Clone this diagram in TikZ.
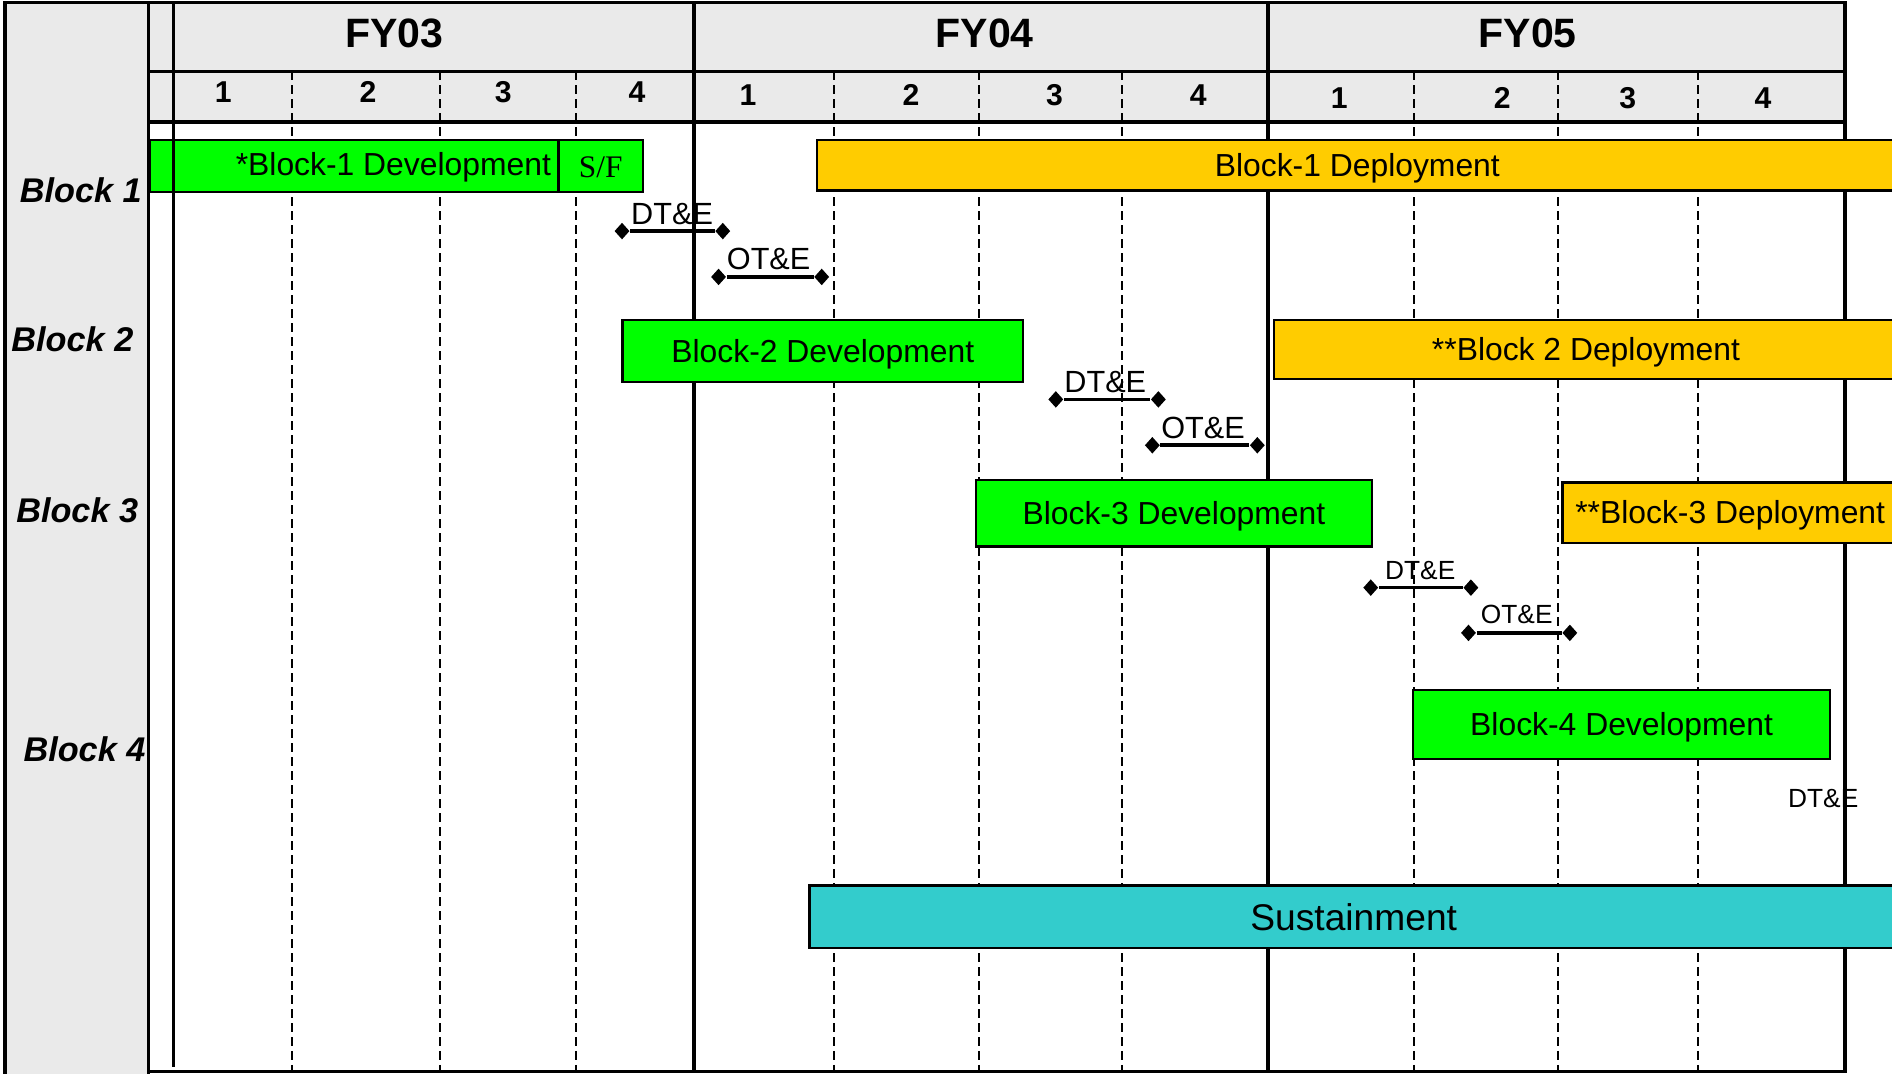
\documentclass[tikz,border=0pt]{standalone}
\usepackage{fontspec}
\setmainfont{Liberation Sans}
\newfontfamily\serifF{Liberation Serif}
\usetikzlibrary{shapes.geometric}
\definecolor{bargreen}{HTML}{00FF00}
\definecolor{baryellow}{HTML}{FFCC00}
\definecolor{barcyan}{HTML}{33CCCC}
\definecolor{hdrgray}{HTML}{EAEAEA}
\begin{document}
\begin{tikzpicture}[x=0.5pt,y=-0.5pt,
  frameline/.style={line width=1.4pt},
  qline/.style={dash pattern=on 3.6pt off 2.2pt, line width=0.8pt},
  bar/.style={draw=black, line width=0.9pt, inner sep=0pt, anchor=north west},
  bartxt/.style={font=\fontsize{13.2}{16}\selectfont, text height=10pt, text depth=0.8pt},
  tlabel/.style={font=\fontsize{12.7}{15}\selectfont, inner sep=0pt, anchor=base},
  slabel/.style={font=\fontsize{10.9}{13}\selectfont, inner sep=0pt, anchor=base},
  dmd/.style={diamond, fill=black, inner sep=0pt, minimum width=6.3pt, minimum height=7pt},
  testline/.style={line width=1.5pt},
  fy/.style={font=\bfseries\fontsize{17}{20}\selectfont, inner sep=0pt},
  qnum/.style={font=\bfseries\fontsize{12.5}{15}\selectfont, inner sep=0pt},
  blk/.style={font=\bfseries\itshape\fontsize{14.2}{17}\selectfont, inner sep=0pt},
]
\clip (0,0) rectangle (1568,890);
\fill[white] (0,0) rectangle (1568,890);
\fill[hdrgray] (4,2) rectangle (123,890);
\fill[hdrgray] (123,2) rectangle (1529,101);

% quarter dashed lines
\foreach \x in {242,365,477,691,811,930,1172,1291,1407}
  \draw[qline] (\x,59) -- (\x,888);

% frame
\draw[frameline] (4,890) -- (4,2) -- (1529,2) -- (1529,888) -- (123,888);
\draw[frameline] (123,2) -- (123,890);
\draw[frameline] (123,59) -- (1529,59);
\draw[frameline] (123,101) -- (1529,101);
\draw[frameline] (575,2) -- (575,888);
\draw[frameline] (1051,2) -- (1051,888);

% header text
\node[fy] (fy03) at (327,28) {FY03};
\node[fy] (fy04) at (816,28) {FY04};
\node[fy] (fy05) at (1266,28) {FY05};
\node[qnum] (q31) at (185,76) {1};
\node[qnum] (q32) at (305,76) {2};
\node[qnum] (q33) at (417,76) {3};
\node[qnum] (q34) at (528,76) {4};
\node[qnum] (q41) at (620,79) {1};
\node[qnum] (q42) at (755,79) {2};
\node[qnum] (q43) at (874,79) {3};
\node[qnum] (q44) at (993,79) {4};
\node[qnum] (q51) at (1110,81) {1};
\node[qnum] (q52) at (1245,81) {2};
\node[qnum] (q53) at (1349,81) {3};
\node[qnum] (q54) at (1461,81) {4};

% block labels
\node[blk] (blk1) at (67,158) {Block 1};
\node[blk] (blk2) at (60,281) {Block 2};
\node[blk] (blk3) at (64,423) {Block 3};
\node[blk] (blk4) at (70,621) {Block 4};

% Block 1
\node[bar, fill=bargreen, minimum width=169.5pt, minimum height=21.5pt] (b1dev) at (123,115) {};
\node[bartxt, anchor=east, inner sep=0pt] (b1devt) at (457,136.5) {*Block-1 Development};
\node[bar, fill=bargreen, minimum width=35pt, minimum height=21.5pt, text height=10pt, text depth=0pt] (sf) at (462,115) {\serifF\fontsize{13}{15}\selectfont S/F};
\node[bar, fill=baryellow, minimum width=448pt, minimum height=21pt, bartxt] (b1dep) at (676,115) {Block-1 Deployment};
\node[dmd] (d1a) at (515.5,191.5) {}; \node[dmd] (d1b) at (599,191.5) {};
\draw[testline] (d1a) -- (d1b);
\node[tlabel] (d1t) at (557,186) {DT\&E};
\node[dmd] (o1a) at (595.5,229.5) {}; \node[dmd] (o1b) at (681,229.5) {};
\draw[testline] (o1a) -- (o1b);
\node[tlabel] (o1t) at (637,223) {OT\&E};

% Block 2
\node[bar, fill=bargreen, minimum width=166pt, minimum height=26pt, bartxt] (b2dev) at (515,264) {Block-2 Development};
\node[bar, fill=baryellow, minimum width=258.5pt, minimum height=24.5pt, bartxt] (b2dep) at (1055,264) {**Block 2 Deployment};
\node[dmd] (d2a) at (875,331) {}; \node[dmd] (d2b) at (960,331) {};
\draw[testline] (d2a) -- (d2b);
\node[tlabel] (d2t) at (916,325) {DT\&E};
\node[dmd] (o2a) at (955,369) {}; \node[dmd] (o2b) at (1042,369) {};
\draw[testline] (o2a) -- (o2b);
\node[tlabel] (o2t) at (997,363) {OT\&E};

% Block 3
\node[bar, fill=bargreen, minimum width=164pt, minimum height=27.5pt, bartxt] (b3dev) at (808,397) {Block-3 Development};
\node[bar, fill=baryellow, minimum width=139pt, minimum height=25pt, bartxt] (b3dep) at (1294,399) {**Block-3 Deployment};
\node[dmd] (d3a) at (1136,487) {}; \node[dmd] (d3b) at (1219,487) {};
\draw[testline] (d3a) -- (d3b);
\node[slabel] (d3t) at (1177,480) {DT\&E};
\node[dmd] (o3a) at (1217,524.5) {}; \node[dmd] (o3b) at (1301,524.5) {};
\draw[testline] (o3a) -- (o3b);
\node[slabel] (o3t) at (1257,517) {OT\&E};

% Block 4
\node[bar, fill=bargreen, minimum width=173pt, minimum height=28.5pt, bartxt] (b4dev) at (1170,571) {Block-4 Development};
\node[slabel] (d4t) at (1511,669) {DT\&E};

% Sustainment
\node[bar, fill=barcyan, minimum width=451pt, minimum height=26pt, font=\fontsize{15.4}{18}\selectfont] (sust) at (670,733) {Sustainment};

% thin vertical line over the first bar
\draw[line width=1.1pt] (144,2) -- (144,884);
\end{tikzpicture}
\end{document}
